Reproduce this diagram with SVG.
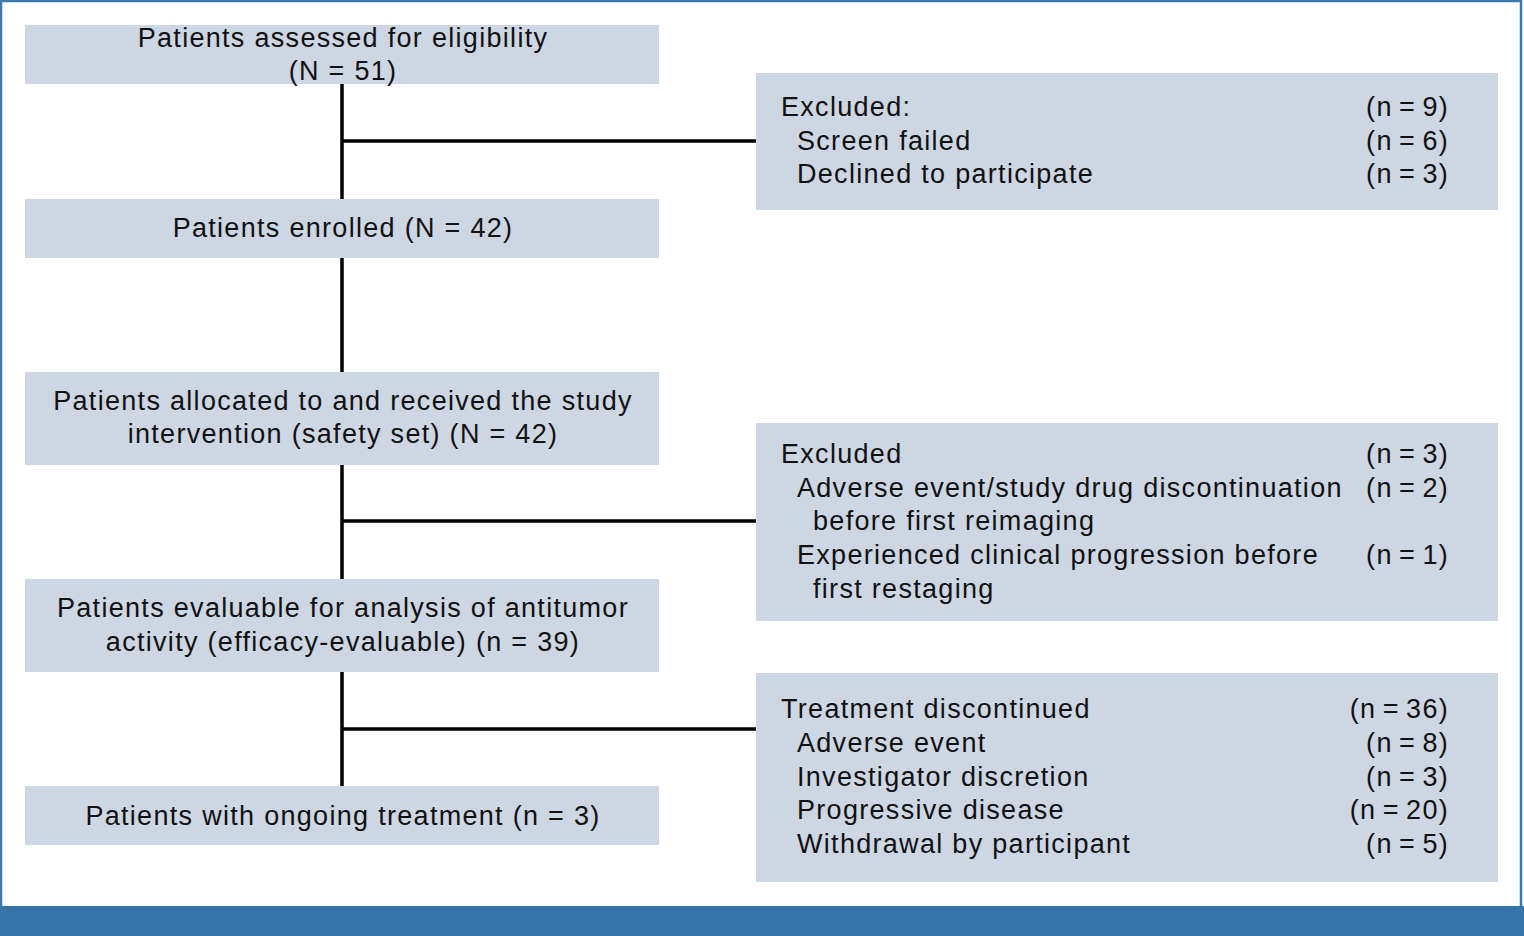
<svg xmlns="http://www.w3.org/2000/svg" width="1524" height="936" viewBox="0 0 1524 936">
<style>
.box{fill:#cdd6e3}
.t{font-family:"Liberation Sans",Arial,sans-serif;font-size:27px;letter-spacing:1.3px;fill:#111}
.c{text-anchor:middle}
.r{text-anchor:end;word-spacing:-2.5px}
.ln{stroke:#000;stroke-width:3.5;fill:none}
</style>
<rect x="0" y="0" width="1524" height="936" fill="#fff"/>
<rect x="1" y="1" width="1520" height="910" fill="none" stroke="#3a78b0" stroke-width="2.5"/>
<rect x="0" y="906" width="1524" height="30" fill="#3474a8"/>
<g id="connectors">
<line class="ln" x1="342" y1="84" x2="342" y2="199"/>
<line class="ln" x1="342" y1="258" x2="342" y2="372"/>
<line class="ln" x1="342" y1="465" x2="342" y2="579"/>
<line class="ln" x1="342" y1="672" x2="342" y2="786"/>
<line class="ln" x1="342" y1="141" x2="756" y2="141"/>
<line class="ln" x1="342" y1="521" x2="756" y2="521"/>
<line class="ln" x1="342" y1="729" x2="756" y2="729"/>
</g>
<g id="assessed">
<rect class="box" x="25" y="25" width="634" height="59"/>
<text class="t c" x="343" y="47">Patients assessed for eligibility</text>
<text class="t c" x="343" y="80">(N = 51)</text>
</g>
<g id="enrolled">
<rect class="box" x="25" y="199" width="634" height="59"/>
<text class="t c" x="343" y="237">Patients enrolled (N = 42)</text>
</g>
<g id="allocated">
<rect class="box" x="25" y="372" width="634" height="93"/>
<text class="t c" x="343" y="410">Patients allocated to and received the study</text>
<text class="t c" x="343" y="443">intervention (safety set) (N = 42)</text>
</g>
<g id="evaluable">
<rect class="box" x="25" y="579" width="634" height="93"/>
<text class="t c" x="343" y="617">Patients evaluable for analysis of antitumor</text>
<text class="t c" x="343" y="651">activity (efficacy-evaluable) (n = 39)</text>
</g>
<g id="ongoing">
<rect class="box" x="25" y="786" width="634" height="59"/>
<text class="t c" x="343" y="825">Patients with ongoing treatment (n = 3)</text>
</g>
<g id="excluded1">
<rect class="box" x="756" y="73" width="742" height="137"/>
<text class="t" x="781" y="116">Excluded:</text>
<text class="t" x="797" y="150">Screen failed</text>
<text class="t" x="797" y="183">Declined to participate</text>
<text class="t r" x="1449" y="116">(n = 9)</text>
<text class="t r" x="1449" y="150">(n = 6)</text>
<text class="t r" x="1449" y="183">(n = 3)</text>
</g>
<g id="excluded2">
<rect class="box" x="756" y="423" width="742" height="198"/>
<text class="t" x="781" y="463">Excluded</text>
<text class="t" x="797" y="497">Adverse event/study drug discontinuation</text>
<text class="t" x="813" y="530">before first reimaging</text>
<text class="t" x="797" y="564">Experienced clinical progression before</text>
<text class="t" x="813" y="598">first restaging</text>
<text class="t r" x="1449" y="463">(n = 3)</text>
<text class="t r" x="1449" y="497">(n = 2)</text>
<text class="t r" x="1449" y="564">(n = 1)</text>
</g>
<g id="discontinued">
<rect class="box" x="756" y="673" width="742" height="209"/>
<text class="t" x="781" y="718">Treatment discontinued</text>
<text class="t" x="797" y="752">Adverse event</text>
<text class="t" x="797" y="786">Investigator discretion</text>
<text class="t" x="797" y="819">Progressive disease</text>
<text class="t" x="797" y="853">Withdrawal by participant</text>
<text class="t r" x="1449" y="718">(n = 36)</text>
<text class="t r" x="1449" y="752">(n = 8)</text>
<text class="t r" x="1449" y="786">(n = 3)</text>
<text class="t r" x="1449" y="819">(n = 20)</text>
<text class="t r" x="1449" y="853">(n = 5)</text>
</g>
</svg>
